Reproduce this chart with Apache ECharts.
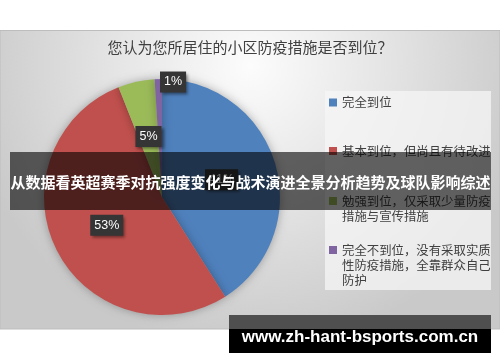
<!DOCTYPE html>
<html><head><meta charset="utf-8">
<script src="https://cdn.jsdelivr.net/npm/echarts@6/dist/echarts.min.js"></script>
<style>html,body{margin:0;padding:0;background:#fff}#c{width:500px;height:362px}</style>
</head><body><div id="c"></div>
<script>
const categories = ['完全到位', '基本到位，但尚且有待改进', '勉强到位，仅采取少量防疫措施与宣传措施', '完全不到位，没有采取实质性防疫措施，全靠群众自己防护'];
const legendLabels = ['完全到位', '基本到位，但尚且有待改进', '勉强到位，仅采取少量防疫\n措施与宣传措施', '完全不到位，没有采取实质\n性防疫措施，全靠群众自己\n防护'];
const values = [41, 53, 5, 1];
const colors = ['#4f81bd', '#c0504d', '#9bbb59', '#8064a2'];
const titleText = '您认为您所居住的小区防疫措施是否到位？';
const bannerText = '从数据看英超赛季对抗强度变化与战术演进全景分析趋势及球队影响综述';
const watermarkText = 'www.zh-hant-bsports.com.cn';

const CJK = "'Noto Sans CJK SC', sans-serif";
const legendTops = [95, 143.5, 178.5, 212.5];

const chart = echarts.init(document.getElementById('c'), null, {renderer: 'canvas'});

const legends = categories.map((name, i) => {
  const label = legendLabels[i];
  const n = label.split('\n').length;
  const padded = '\n'.repeat(n - 1) + label;
  return {
    data: [name],
    left: 329,
    top: legendTops[i],
    padding: 0,
    orient: 'vertical',
    itemWidth: 8,
    itemHeight: 8,
    icon: 'rect',
    selectedMode: false,
    formatter: () => padded,
    textStyle: {fontSize: 12.4, lineHeight: 15, color: '#404040', fontFamily: CJK}
  };
});

chart.setOption({
  animation: false,
  color: colors,
  title: {
    text: titleText,
    left: 'center',
    top: 40,
    padding: 0,
    textStyle: {fontSize: 15, fontWeight: 'normal', color: '#404040', fontFamily: CJK}
  },
  legend: legends,
  graphic: [
    {type: 'rect', z: -10, shape: {x: 0, y: 30.5, width: 500, height: 298.5},
     style: {fill: new echarts.graphic.RadialGradient(0.5, 0.12, 0.95, [
       {offset: 0, color: '#fcfcfc'}, {offset: 0.45, color: '#e6e6e6'}, {offset: 1, color: '#c9c9c9'}]),
       stroke: '#bdbdbd', lineWidth: 1}},
    {type: 'rect', z: -5, shape: {x: 325, y: 91, width: 166, height: 199},
     style: {fill: 'rgba(246,246,246,0.75)'}},
    {type: 'rect', z: 100, shape: {x: 10, y: 152, width: 481, height: 58},
     style: {fill: 'rgba(0,0,0,0.6)'}},
    {type: 'text', z: 101, x: 250.5, y: 182,
     style: {text: bannerText, fill: '#fff', align: 'center', verticalAlign: 'middle',
       font: "bold 15px 'Noto Sans CJK SC', sans-serif"}},
    {type: 'rect', z: 100, shape: {x: 229, y: 315, width: 262, height: 38},
     style: {fill: '#000'}},
    {type: 'rect', z: 100, shape: {x: 229, y: 315, width: 262, height: 14},
     style: {fill: '#4f4f4f'}},
    {type: 'text', z: 101, x: 360, y: 337.5,
     style: {text: watermarkText, fill: '#fff', align: 'center', verticalAlign: 'middle',
       font: "bold 17px 'Liberation Sans', Arial, sans-serif"}}
  ],
  series: [{
    type: 'pie',
    center: [162, 197],
    radius: 118,
    startAngle: 90,
    clockwise: true,
    silent: true,
    data: categories.map((name, i) => ({name, value: values[i]})),
    itemStyle: {shadowBlur: 10, shadowColor: 'rgba(0,0,0,0.3)'},
    label: {
      show: true,
      position: 'inside',
      formatter: '{c}%',
      color: '#fff',
      fontSize: 12.5,
      lineHeight: 13,
      fontFamily: "'Liberation Sans', Arial, sans-serif",
      backgroundColor: '#353535',
      padding: [4, 4],
      shadowBlur: 3,
      shadowColor: 'rgba(0,0,0,0.45)',
      shadowOffsetX: 2,
      shadowOffsetY: 2
    },
    labelLine: {show: false},
    labelLayout: function (params) {
      if (params.dataIndex === 3) return {dx: 13, dy: -53};
      return {};
    }
  }]
});
</script></body></html>
